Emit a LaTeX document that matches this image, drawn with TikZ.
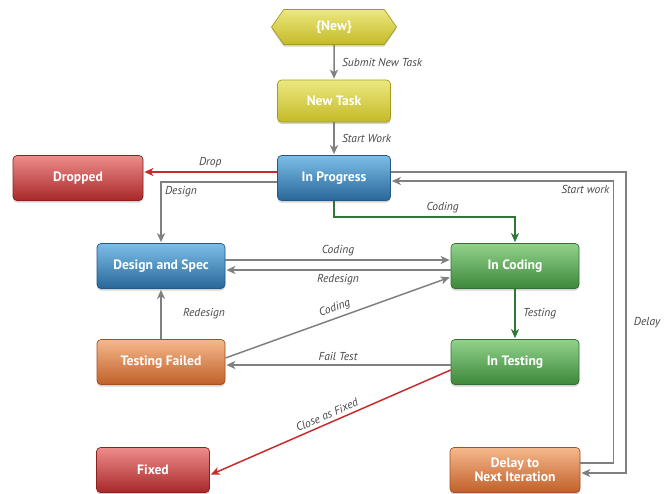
\documentclass[tikz,border=0pt]{standalone}
\usepackage{fontspec}
\setmainfont{PT Sans}
\usetikzlibrary{arrows.meta,shapes.symbols,shadows}

\definecolor{yeltop}{RGB}{236,232,128}
\definecolor{yelbot}{RGB}{196,186,40}
\definecolor{yeldark}{RGB}{165,156,30}
\definecolor{bluetop}{RGB}{124,190,232}
\definecolor{bluebot}{RGB}{40,102,152}
\definecolor{bluedark}{RGB}{34,88,132}
\definecolor{redtop}{RGB}{238,140,140}
\definecolor{redbot}{RGB}{168,40,40}
\definecolor{reddark}{RGB}{140,32,32}
\definecolor{greentop}{RGB}{146,210,140}
\definecolor{greenbot}{RGB}{60,136,58}
\definecolor{greendark}{RGB}{50,114,48}
\definecolor{orangetop}{RGB}{246,184,140}
\definecolor{orangebot}{RGB}{192,96,42}
\definecolor{orangedark}{RGB}{164,80,34}
\definecolor{linegray}{RGB}{128,128,128}
\definecolor{linered}{RGB}{198,44,44}
\definecolor{linegreen}{RGB}{46,120,52}
\definecolor{labelgray}{RGB}{72,72,72}

\begin{document}
\begin{tikzpicture}[x=1pt,y=-1pt,>={Stealth[length=9pt,width=8pt,inset=2.5pt]},shorten >=1pt,node distance=96pt,
    box/.style={rectangle,rounded corners=4pt,minimum width=128pt,minimum height=45pt,
      text=white,font=\bfseries\fontsize{13.6}{14.5}\selectfont,align=center,line width=0.7pt,
      drop shadow={shadow xshift=0pt,shadow yshift=-2pt,opacity=0.35}},
    yellowbox/.style={box,draw=yeldark,top color=yeltop,bottom color=yelbot},
    bluebox/.style={box,draw=bluedark,top color=bluetop,bottom color=bluebot},
    redbox/.style={box,draw=reddark,top color=redtop,bottom color=redbot},
    greenbox/.style={box,draw=greendark,top color=greentop,bottom color=greenbot},
    orangebox/.style={box,draw=orangedark,top color=orangetop,bottom color=orangebot},
    starthex/.style={yellowbox,signal,signal to=east and west,signal pointer angle=110,
      rounded corners=0pt,minimum width=125pt,minimum height=35pt},
    link/.style={->,line width=1.5pt,draw=linegray},
    redlink/.style={link,draw=linered},
    greenlink/.style={link,draw=linegreen},
    lbl/.style={font=\itshape\fontsize{11.5}{13}\selectfont,text=labelgray}]

  \useasboundingbox (0,0) rectangle (668,493);

  % states
  \node[starthex] (newst) at (334,27) {\{New\}};
  \node[yellowbox,minimum width=113pt,minimum height=42pt,node distance=74pt] (task) [below of=newst] {New Task};
  \node[bluebox,minimum width=113pt,node distance=77pt] (prog) [below of=task] {In Progress};
  \node[redbox,minimum width=130pt,node distance=256pt] (drop) [left of=prog] {Dropped};
  \node[bluebox] (dspec) at (161,266) {Design and Spec};
  \node[greenbox,node distance=354pt] (coding) [right of=dspec] {In Coding};
  \node[orangebox] (tfail) [below of=dspec] {Testing Failed};
  \node[greenbox,node distance=354pt] (testing) [right of=tfail] {In Testing};
  \node[redbox,minimum width=113pt] (fixed) at (153,470) {Fixed};
  \node[orangebox,minimum width=130pt,node distance=108pt] (delay) [below of=testing] {Delay to\\Next Iteration};

  % transitions
  \draw[link] (newst) -- (task) node[lbl,midway,right,xshift=4pt] {Submit New Task};
  \draw[link] (task) -- (prog) node[lbl,midway,right,xshift=4pt] {Start Work};
  \draw[redlink] ([yshift=6pt]prog.west) -- ([yshift=6pt]drop.east) node[lbl,midway,above] {Drop};
  \draw[link] ([yshift=-4pt]prog.west) -| (dspec.north) node[lbl,pos=0.5,below right] {Design};
  \draw[greenlink] (prog.south) -- ++(0,16) -| (coding.north) node[lbl,pos=0.3,above] {Coding};
  \draw[link] ([yshift=6pt]prog.east) -- ++(235,0) |- ([yshift=-3pt]delay.east) node[lbl,pos=0.25,right,xshift=4pt] {Delay};
  \draw[link] ([yshift=7pt]delay.east) -- ++(33,0) |- ([yshift=-3pt]prog.east) node[lbl,pos=0.5,below left] {Start work};
  \draw[link] ([yshift=6pt]dspec.east) -- ([yshift=6pt]coding.west) node[lbl,midway,above] {Coding};
  \draw[link] ([yshift=-4pt]coding.west) -- ([yshift=-4pt]dspec.east) node[lbl,midway,below] {Redesign};
  \draw[link] (tfail) -- (dspec) node[lbl,midway,right,xshift=18pt] {Redesign};
  \draw[link] ([yshift=4pt]tfail.east) -- ([yshift=-11pt]coding.west) node[lbl,midway,above,sloped] {Coding};
  \draw[greenlink] (coding) -- (testing) node[lbl,midway,right,xshift=4pt] {Testing};
  \draw[link] ([yshift=-3pt]testing.west) -- ([yshift=-3pt]tfail.east) node[lbl,midway,above] {Fail Test};
  \draw[redlink] ([yshift=-8pt]testing.west) -- ([yshift=-5pt]fixed.east) node[lbl,midway,above,sloped] {Close as Fixed};
\end{tikzpicture}
\end{document}
